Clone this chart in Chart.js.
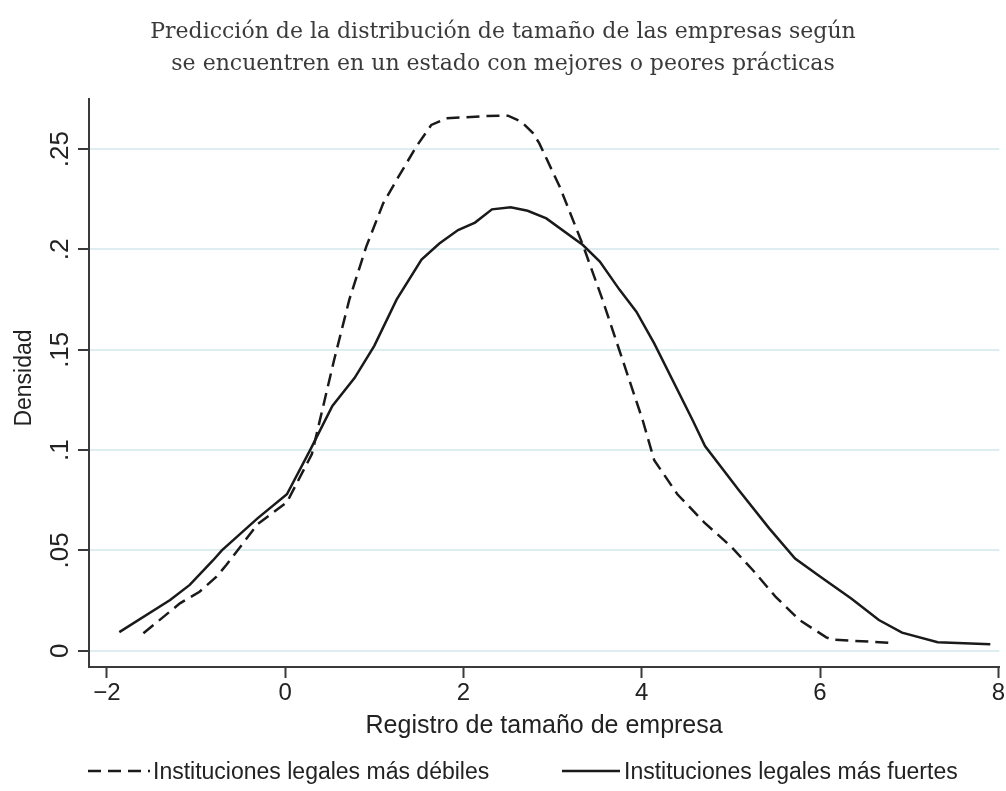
<!DOCTYPE html>
<html><head><meta charset="utf-8">
<script src="https://cdn.jsdelivr.net/npm/chart.js@4.4.1/dist/chart.umd.min.js"></script>
<style>html,body{margin:0;padding:0;background:#fff;} canvas{display:block;}</style>
</head><body>
<canvas id="c" width="1006" height="791"></canvas>
<script>
const titleLines = ['Predicción de la distribución de tamaño de las empresas según',
                    'se encuentren en un estado con mejores o peores prácticas'];
const xTitle = 'Registro de tamaño de empresa';
const yTitle = 'Densidad';
const seriesNames = ['Instituciones legales más débiles', 'Instituciones legales más fuertes'];
const xTicks = [-2, 0, 2, 4, 6, 8];
const xTickLabels = ['\u22122', '0', '2', '4', '6', '8'];
const yTicks = [0, 0.05, 0.1, 0.15, 0.2, 0.25];
const yTickLabels = ['0', '.05', '.1', '.15', '.2', '.25'];

const weakX = [-1.59,-1.18,-0.96,-0.77,-0.66,-0.31,0.02,0.30,0.55,0.72,0.91,1.10,1.25,1.47,1.64,1.81,2.03,2.26,2.50,2.65,2.78,2.85,3.08,3.34,3.56,3.71,4.01,4.14,4.40,4.70,5.00,5.25,5.50,5.77,6.07,6.14,6.78];
const weakY = [0.0087,0.0236,0.0294,0.0369,0.0427,0.063,0.074,0.098,0.145,0.175,0.2014,0.223,0.2346,0.2512,0.2621,0.2654,0.2659,0.2665,0.2667,0.2637,0.258,0.253,0.2313,0.2022,0.175,0.155,0.115,0.095,0.078,0.064,0.052,0.040,0.027,0.0153,0.0067,0.0055,0.004];

const strongX = [-1.86,-1.29,-1.07,-0.81,-0.71,-0.31,0.02,0.28,0.53,0.78,1.00,1.25,1.53,1.73,1.94,2.13,2.32,2.53,2.72,2.93,3.34,3.53,3.75,3.94,4.14,4.57,4.71,5.09,5.43,5.72,6.00,6.35,6.66,6.92,7.32,7.91];
const strongY = [0.0093,0.0253,0.0328,0.045,0.050,0.066,0.078,0.100,0.122,0.136,0.152,0.175,0.195,0.203,0.2097,0.2134,0.2200,0.2210,0.2193,0.2155,0.2022,0.194,0.180,0.169,0.1532,0.115,0.102,0.080,0.061,0.046,0.037,0.026,0.0153,0.009,0.0042,0.0032];

const toPts = (xs, ys) => xs.map((x, i) => ({x: x, y: ys[i]}));
const INK = '#1a1a1a';
const AXIS = '#3a3a3a';
const GRID = '#ddedf0';
const SANS = '"Liberation Sans", Arial, Helvetica, sans-serif';

const textPlugin = {
  id: 'texts',
  afterDraw(chart) {
    const ctx = chart.ctx;
    const ys = chart.scales.y;
    const ca = chart.chartArea;
    ctx.save();
    // title
    ctx.fillStyle = '#3a3a3a';
    ctx.font = '22px "DejaVu Serif", serif';
    ctx.textAlign = 'center';
    ctx.textBaseline = 'alphabetic';
    ctx.fillText(titleLines[0], 503, 38);
    ctx.fillText(titleLines[1], 503, 70);
    // y tick labels (rotated)
    ctx.fillStyle = '#222';
    ctx.font = '26px ' + SANS;
    yTicks.forEach((v, i) => {
      ctx.save();
      ctx.translate(68, ys.getPixelForValue(v));
      ctx.rotate(-Math.PI / 2);
      ctx.textAlign = 'center';
      ctx.textBaseline = 'alphabetic';
      ctx.fillText(yTickLabels[i], 0, 0);
      ctx.restore();
    });
    // y title
    ctx.save();
    ctx.font = '23px ' + SANS;
    ctx.translate(31, (ca.top + ca.bottom) / 2 - 5);
    ctx.rotate(-Math.PI / 2);
    ctx.textAlign = 'center';
    ctx.fillText(yTitle, 0, 0);
    ctx.restore();
    // x title
    ctx.font = '25px ' + SANS;
    ctx.textAlign = 'center';
    ctx.fillText(xTitle, (ca.left + ca.right) / 2, 733);
    // legend
    const ds = chart.data.datasets;
    ctx.font = '23px ' + SANS;
    ctx.textAlign = 'left';
    const legendY = 771;
    const items = [{x0: 88, x1: 150, tx: 153}, {x0: 562, x1: 620, tx: 624}];
    items.forEach((it, i) => {
      ctx.save();
      ctx.strokeStyle = ds[i].borderColor;
      ctx.lineWidth = ds[i].borderWidth;
      ctx.setLineDash(ds[i].borderDash || []);
      ctx.beginPath();
      ctx.moveTo(it.x0, legendY);
      ctx.lineTo(it.x1, legendY);
      ctx.stroke();
      ctx.restore();
      ctx.fillStyle = '#222';
      ctx.fillText(ds[i].label, it.tx, legendY + 8);
    });
    ctx.restore();
  }
};

new Chart(document.getElementById('c'), {
  type: 'line',
  data: {
    datasets: [
      {label: seriesNames[0], data: toPts(weakX, weakY), borderColor: INK, borderWidth: 2.5,
       borderDash: [13, 7], pointRadius: 0, tension: 0, fill: false},
      {label: seriesNames[1], data: toPts(strongX, strongY), borderColor: INK, borderWidth: 2.5,
       pointRadius: 0, tension: 0, fill: false}
    ]
  },
  options: {
    responsive: false,
    animation: false,
    devicePixelRatio: 1,
    layout: {padding: {top: 99, right: 6, left: 0, bottom: 0}},
    plugins: {legend: {display: false}, title: {display: false}, tooltip: {enabled: false}},
    scales: {
      x: {
        type: 'linear', min: -2.2, max: 8.01,
        afterBuildTicks: s => { s.ticks = xTicks.map(v => ({value: v})); },
        afterFit: s => { s.height = 124; },
        grid: {drawOnChartArea: false, drawTicks: true, tickLength: 11, tickColor: AXIS, tickWidth: 2},
        border: {display: true, color: AXIS, width: 2},
        ticks: {
          color: '#222', font: {size: 24, family: SANS}, padding: 1, maxRotation: 0, autoSkip: false,
          callback: (v) => { const i = xTicks.indexOf(v); return i >= 0 ? xTickLabels[i] : ''; }
        }
      },
      y: {
        type: 'linear', min: -0.0081, max: 0.275,
        afterBuildTicks: s => { s.ticks = yTicks.map(v => ({value: v})); },
        afterFit: s => { s.width = 89; },
        grid: {color: GRID, lineWidth: 2, drawTicks: true, tickLength: 11, tickColor: AXIS, tickWidth: 2},
        border: {display: true, color: AXIS, width: 2},
        ticks: {display: false}
      }
    }
  },
  plugins: [textPlugin]
});
</script>
</body></html>
